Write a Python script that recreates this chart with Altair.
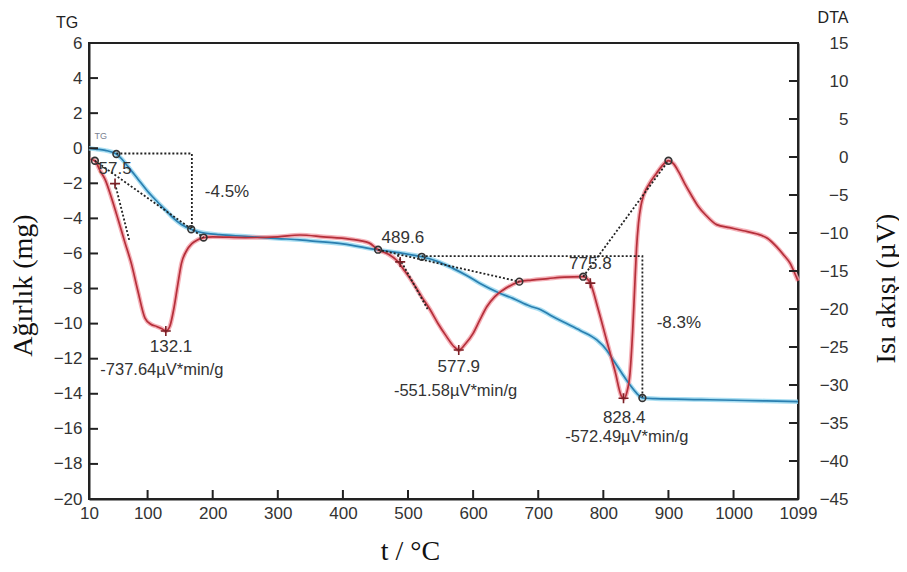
import altair as alt
import pandas as pd

# ---------------- data ----------------
# TG curve (t in °C, mass in mg)
tg_t = [10, 20, 35, 52, 60, 70, 85, 100, 115, 127, 140, 152, 167, 178, 190, 210, 250, 300,
        334, 350, 400, 454, 490, 521, 545, 569, 590, 610, 640, 661, 687, 703, 720, 738,
        765, 790, 805, 815, 828, 841, 852, 860, 880, 950, 1000, 1050, 1099]
tg_v = [0.0, -0.05, -0.12, -0.33, -0.6, -1.05, -1.75, -2.45, -3.05, -3.5, -4.0, -4.35, -4.62,
        -4.76, -4.85, -4.93, -5.02, -5.15, -5.22, -5.28, -5.45, -5.8, -5.98, -6.19, -6.45,
        -6.85, -7.25, -7.7, -8.25, -8.56, -9.0, -9.2, -9.55, -9.9, -10.4, -10.93, -11.5,
        -12.07, -12.8, -13.5, -14.0, -14.24, -14.28, -14.33, -14.37, -14.41, -14.45]

# DTA curve (t in °C, heat flow in µV)
dta_t = [12, 19, 27, 35, 45, 55, 65, 75, 85, 96, 105, 114, 122, 128, 134, 140, 146, 152, 160,
         168, 177, 186, 200, 250, 300, 334, 370, 410, 440, 454, 470, 482, 495, 508, 521, 534,
         546, 559, 570, 578, 588, 600, 610, 621, 633, 646, 660, 671, 690, 715, 740, 769, 775,
         780, 792, 805, 818, 828, 832, 836, 841, 845, 848, 851, 854, 858, 862, 870, 882, 892,
         900, 908, 916, 925, 935, 945, 958, 974, 994, 1015, 1035, 1052, 1066, 1078, 1087,
         1094, 1099]
dta_v = [-0.3, -0.49, -1.8, -3.0, -5.5, -8.3, -11.2, -14.0, -17.6, -21.2, -22.0, -22.3, -22.6,
         -22.9, -22.3, -20.1, -17.0, -14.0, -12.3, -11.4, -10.9, -10.6, -10.5, -10.6, -10.5,
         -10.26, -10.5, -10.8, -11.3, -12.2, -12.8, -13.55, -15.0, -16.6, -18.4, -20.1, -21.9,
         -23.6, -24.9, -25.4, -24.6, -23.2, -21.5, -19.7, -18.4, -17.5, -16.8, -16.4, -16.2,
         -16.0, -15.8, -15.75, -16.0, -16.6, -20.0, -24.1, -28.2, -31.5, -31.75, -31.0, -28.4,
         -23.0, -17.5, -12.0, -8.7, -6.3, -5.0, -3.6, -2.1, -1.0, -0.49, -0.9, -2.0, -3.5,
         -5.0, -6.4, -7.7, -8.9, -9.3, -9.7, -10.1, -10.7, -11.8, -13.0, -14.0, -15.3, -16.3]

# dotted construction lines
tg_seg_id = ["a", "a", "a", "b", "b", "b"]
tg_seg_ord = [0, 1, 2, 0, 1, 2]
tg_seg_t = [52, 168, 168, 521, 860, 860]
tg_seg_v = [-0.3, -0.3, -4.62, -6.15, -6.15, -14.24]

dta_seg_id = ["s1", "s1", "s2", "s2", "s3", "s3", "s4", "s4", "s5", "s5"]
dta_seg_t = [19, 186, 50, 72, 454, 671, 484, 530, 769, 900]
dta_seg_v = [-0.49, -10.6, -3.5, -11.0, -12.2, -16.4, -12.9, -20.0, -15.75, -0.49]

# circles and crosses
tg_circ_t = [52, 167, 521, 860]
tg_circ_v = [-0.33, -4.62, -6.19, -14.24]
dta_circ_t = [19, 186, 454, 671, 769, 900]
dta_circ_v = [-0.49, -10.6, -12.2, -16.4, -15.75, -0.49]
dta_cross_t = [50, 128, 488, 577.9, 780, 831]
dta_cross_v = [-3.5, -22.9, -13.8, -25.4, -16.6, -31.75]

# annotation texts
tg_lab_text = ["-4.5%", "-8.3%"]
tg_lab_t = [222, 916]
tg_lab_v = [-2.5, -9.97]

dta_lab_text = ["57.5", "132.1", "-737.64µV*min/g", "489.6", "577.9", "-551.58µV*min/g",
                "775.8", "828.4", "-572.49µV*min/g"]
dta_lab_t = [50, 136, 122, 492, 578, 573, 780, 832, 836]
dta_lab_v = [-1.58, -25.0, -28.0, -10.66, -27.6, -30.8, -14.08, -34.3, -36.8]
dta_lab_fs = [17, 17, 16.5, 17, 17, 16.5, 17, 17, 16.5]

# axis ticks
x_ticks = [10, 100, 200, 300, 400, 500, 600, 700, 800, 900, 1000, 1099]
x_inner = [100, 200, 300, 400, 500, 600, 700, 800, 900, 1000]
tg_ticks = list(range(-20, 7, 2))
dta_ticks = list(range(-45, 16, 5))

# ---------------- chart ----------------
W, H = 709, 456
X_DOM = [10, 1099]
TG_DOM = [-20, 6]
DTA_DOM = [-45, 15]
SANS = "Liberation Sans"
SERIF = "Liberation Serif"

x_axis = alt.Axis(values=x_ticks, format="d", title="t / °C", ticks=False, grid=False,
                  labelFlush=False, domainColor="#222", domainWidth=2, labelFont=SANS,
                  labelFontSize=17, labelColor="#333", labelPadding=6, titleFont=SERIF,
                  titleFontSize=28, titleFontWeight="normal", titleColor="#111", titleX=321,
                  titleY=60, titleAlign="center", titleBaseline="alphabetic")
tg_axis = alt.Axis(values=tg_ticks, orient="left", title="Ağırlık (mg)", ticks=False, grid=False,
                   domainColor="#222", domainWidth=2, labelFont=SANS, labelFontSize=17,
                   labelColor="#333", labelPadding=7, titleFont=SERIF, titleFontSize=28,
                   titleFontWeight="normal", titleColor="#111", titleX=-58, titleY=242,
                   titleAngle=270, titleAlign="center", titleBaseline="alphabetic")
dta_axis = alt.Axis(values=dta_ticks, orient="right", title="Isı akışı (µV)", ticks=False,
                    grid=False, domainColor="#222", domainWidth=2, labelFont=SANS,
                    labelFontSize=17, labelColor="#333", labelPadding=50, labelAlign="right",
                    titleFont=SERIF, titleFontSize=28, titleFontWeight="normal",
                    titleColor="#111", titleX=96, titleY=245, titleAngle=270,
                    titleAlign="center", titleBaseline="alphabetic")


def X():
    # every layer carries the same x axis, so the shared axis is merged, not disabled
    return alt.X("t:Q", scale=alt.Scale(domain=X_DOM, nice=False, zero=False), axis=x_axis)


def Ytg(axis=None):
    return alt.Y("v:Q", scale=alt.Scale(domain=TG_DOM, nice=False, zero=False), axis=axis)


def Ydta(axis=None):
    return alt.Y("v:Q", scale=alt.Scale(domain=DTA_DOM, nice=False, zero=False), axis=axis)


tg_df = pd.DataFrame({"t": tg_t, "v": tg_v})
dta_df = pd.DataFrame({"t": dta_t, "v": dta_v})

# --- TG layers
tg_halo = alt.Chart(tg_df).mark_line(color="#9ad8f0", strokeWidth=4.5, opacity=0.85,
                                     interpolate="monotone").encode(x=X(), y=Ytg())
tg_core = alt.Chart(tg_df).mark_line(color="#2a7fb0", strokeWidth=1.7,
                                     interpolate="monotone").encode(x=X(), y=Ytg(axis=tg_axis))
tg_seg = alt.Chart(pd.DataFrame({"seg": tg_seg_id, "o": tg_seg_ord, "t": tg_seg_t,
                                 "v": tg_seg_v})).mark_line(
    color="#222", strokeWidth=1.8, strokeDash=[2, 2]).encode(
    x=X(), y=Ytg(), detail="seg:N", order="o:Q")
tg_circ = alt.Chart(pd.DataFrame({"t": tg_circ_t, "v": tg_circ_v})).mark_point(
    filled=False, size=45, stroke="#333", strokeWidth=1.6, opacity=1).encode(x=X(), y=Ytg())
tg_lab = alt.Chart(pd.DataFrame({"t": tg_lab_t, "v": tg_lab_v, "s": tg_lab_text})).mark_text(
    font=SANS, fontSize=17, color="#333", align="center", baseline="middle").encode(
    x=X(), y=Ytg(), text="s:N")
tg_small = alt.Chart(pd.DataFrame({"t": [28], "v": [0.7], "s": ["TG"]})).mark_text(
    font=SANS, fontSize=9, color="#7a8090", align="center", baseline="middle").encode(
    x=X(), y=Ytg(), text="s:N")
tg_tick = alt.Chart(pd.DataFrame({"v": tg_ticks})).mark_rule(color="#222", strokeWidth=2).encode(
    y=Ytg(), x=alt.value(0), x2=alt.value(9))
x_tick = alt.Chart(pd.DataFrame({"t": x_inner})).mark_rule(color="#222", strokeWidth=2).encode(
    x=X(), y=alt.value(H), y2=alt.value(H - 9))

# --- DTA layers
dta_halo = alt.Chart(dta_df).mark_line(color="#f3a3ab", strokeWidth=4.5, opacity=0.85,
                                       interpolate="monotone").encode(x=X(), y=Ydta())
dta_core = alt.Chart(dta_df).mark_line(color="#b52f3a", strokeWidth=1.7,
                                       interpolate="monotone").encode(x=X(),
                                                                      y=Ydta(axis=dta_axis))
dta_seg = alt.Chart(pd.DataFrame({"seg": dta_seg_id, "t": dta_seg_t, "v": dta_seg_v})).mark_line(
    color="#222", strokeWidth=1.8, strokeDash=[2, 2]).encode(x=X(), y=Ydta(), detail="seg:N")
dta_circ = alt.Chart(pd.DataFrame({"t": dta_circ_t, "v": dta_circ_v})).mark_point(
    filled=False, size=45, stroke="#333", strokeWidth=1.6, opacity=1).encode(x=X(), y=Ydta())
dta_cross = alt.Chart(pd.DataFrame({"t": dta_cross_t, "v": dta_cross_v})).mark_point(
    shape="M-1,0L1,0M0,-1L0,1", filled=False, size=100, stroke="#7a1f25", strokeWidth=1.6,
    opacity=1).encode(x=X(), y=Ydta())
dta_lab = alt.Chart(pd.DataFrame({"t": dta_lab_t, "v": dta_lab_v, "s": dta_lab_text,
                                  "fs": dta_lab_fs})).mark_text(
    font=SANS, color="#333", align="center", baseline="middle").encode(
    x=X(), y=Ydta(), text="s:N", size=alt.Size("fs:Q", scale=None))
dta_tick = alt.Chart(pd.DataFrame({"v": dta_ticks})).mark_rule(color="#222", strokeWidth=2).encode(
    y=Ydta(), x=alt.value(W - 9), x2=alt.value(W))

# --- corner captions
cap_tg = alt.Chart(pd.DataFrame({"a": [0]})).mark_text(
    font=SANS, fontSize=16, color="#222", align="center", baseline="middle").encode(
    x=alt.value(-22), y=alt.value(-20), text=alt.value("TG"))
cap_dta = alt.Chart(pd.DataFrame({"a": [0]})).mark_text(
    font=SANS, fontSize=16, color="#222", align="center", baseline="middle").encode(
    x=alt.value(744), y=alt.value(-25), text=alt.value("DTA"))

chart = alt.layer(
    tg_halo, dta_halo, tg_core, dta_core, tg_seg, dta_seg, tg_circ, dta_circ, dta_cross,
    tg_lab, tg_small, dta_lab, tg_tick, dta_tick, x_tick, cap_tg, cap_dta
).resolve_scale(y="independent").properties(
    width=W, height=H,
    padding={"left": 81, "top": 35, "right": 101, "bottom": 65},
    autosize=alt.AutoSizeParams(type="none"),
    background="white",
).configure_view(stroke="#222", strokeWidth=2).configure_axis(grid=False)

chart.save("out.html", embed_options={"renderer": "svg", "actions": False})
